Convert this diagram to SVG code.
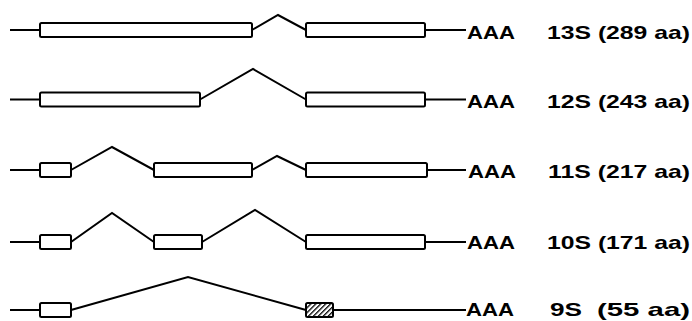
<svg xmlns="http://www.w3.org/2000/svg" width="692" height="321" viewBox="0 0 692 321">
<style>
.ln{fill:none;stroke:#000;stroke-width:2;stroke-linejoin:miter}
.ex{fill:#fff;stroke:#000;stroke-width:2}
.t{font-family:"Liberation Sans",Arial,sans-serif;font-size:19px;font-weight:bold;fill:#000}
</style>
<defs>
<pattern id="hatch" patternUnits="userSpaceOnUse" width="3.5" height="3.5" patternTransform="rotate(45)">
<rect width="3.5" height="3.5" fill="#fff"/>
<line x1="0" y1="0" x2="0" y2="3.5" stroke="#000" stroke-width="2.6"/>
</pattern>
</defs>
<g id="connectors">
<path class="ln" d="M10,30 H40 M252,30 L278,15 L306,30 M425,30 H466"/>
<path class="ln" d="M10,99.5 H40 M200,99.5 L253,69 L306,99.5 M425,99.5 H466"/>
<path class="ln" d="M10,170 H40 M71,170 L112,147 L154,170 M252,170 L277,156 L306,170 M427,170 H466"/>
<path class="ln" d="M10,242 H40 M71,242 L112,213 L154,242 M202,242 L255,210 L306,242 M425,242 H466"/>
<path class="ln" d="M10,310 H40 M71,310 L188,277 L306,310 M333,310 H466"/>
</g>
<g id="row13S">
<rect class="ex" x="40" y="23" width="212" height="14" rx="1.5"/>
<rect class="ex" x="306" y="23" width="119" height="14" rx="1.5"/>
<text class="t" x="467" y="38.5" textLength="48" lengthAdjust="spacingAndGlyphs">AAA</text>
<text class="t" x="547" y="38.5" textLength="143" lengthAdjust="spacingAndGlyphs">13S (289 aa)</text>
</g>
<g id="row12S">
<rect class="ex" x="40" y="92.5" width="160" height="14" rx="1.5"/>
<rect class="ex" x="306" y="92.5" width="119" height="14" rx="1.5"/>
<text class="t" x="467" y="108" textLength="48" lengthAdjust="spacingAndGlyphs">AAA</text>
<text class="t" x="547" y="108" textLength="143" lengthAdjust="spacingAndGlyphs">12S (243 aa)</text>
</g>
<g id="row11S">
<rect class="ex" x="40" y="163" width="31" height="14" rx="1.5"/>
<rect class="ex" x="154" y="163" width="98" height="14" rx="1.5"/>
<rect class="ex" x="306" y="163" width="121" height="14" rx="1.5"/>
<text class="t" x="468" y="178" textLength="48" lengthAdjust="spacingAndGlyphs">AAA</text>
<text class="t" x="548" y="178" textLength="142" lengthAdjust="spacingAndGlyphs">11S (217 aa)</text>
</g>
<g id="row10S">
<rect class="ex" x="40" y="235" width="31" height="14" rx="1.5"/>
<rect class="ex" x="154" y="235" width="48" height="14" rx="1.5"/>
<rect class="ex" x="306" y="235" width="119" height="14" rx="1.5"/>
<text class="t" x="467" y="249" textLength="48" lengthAdjust="spacingAndGlyphs">AAA</text>
<text class="t" x="547" y="249" textLength="143" lengthAdjust="spacingAndGlyphs">10S (171 aa)</text>
</g>
<g id="row9S">
<rect class="ex" x="40" y="303" width="31" height="14" rx="1.5"/>
<rect x="306" y="303" width="27" height="14" rx="1.5" fill="url(#hatch)" stroke="#000" stroke-width="2"/>
<text class="t" x="466" y="316" textLength="48" lengthAdjust="spacingAndGlyphs">AAA</text>
<text class="t" x="550" y="316" textLength="32" lengthAdjust="spacingAndGlyphs">9S</text>
<text class="t" x="597" y="316" textLength="93" lengthAdjust="spacingAndGlyphs">(55 aa)</text>
</g>
</svg>
